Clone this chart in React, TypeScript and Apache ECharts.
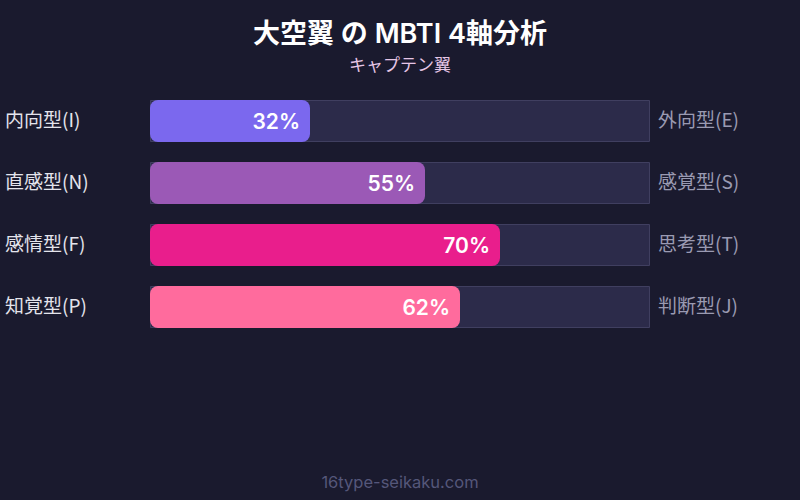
import React, { useEffect, useRef } from "react";
import * as echarts from "echarts";

const leftLabels = ["内向型(I)", "直感型(N)", "感情型(F)", "知覚型(P)"];
const rightLabels = ["外向型(E)", "感覚型(S)", "思考型(T)", "判断型(J)"];
const values = [32, 55, 70, 62];
const barColors = ["#7b68ee", "#9b59b6", "#e91e8c", "#ff6b9d"];
const fullValues = [100, 100, 100, 100];

const FONT = "Inter, 'Noto Sans CJK JP', sans-serif";
const LABEL_FONT = "'Noto Sans CJK JP', sans-serif";

export default function App() {
  const ref = useRef<HTMLDivElement>(null);
  useEffect(() => {
    if (!ref.current) return;
    const chart = echarts.init(ref.current, undefined, { renderer: "svg" });
    chart.setOption({
      animation: false,
      backgroundColor: "#1a1a2e",
      textStyle: { fontFamily: FONT },
      title: {
        text: "大空翼 の MBTI 4軸分析",
        subtext: "キャプテン翼",
        left: "center",
        top: 15,
        itemGap: 8,
        textStyle: { color: "#ffffff", fontSize: 27, fontWeight: 600, fontFamily: FONT },
        subtextStyle: { color: "#e6c6e6", fontSize: 17, fontFamily: LABEL_FONT },
      },
      grid: { left: 150, right: 150, top: 90, height: 248 },
      xAxis: { type: "value", min: 0, max: 100, show: false },
      yAxis: [
        {
          type: "category",
          data: leftLabels,
          inverse: true,
          position: "left",
          axisLine: { show: false },
          axisTick: { show: false },
          axisLabel: { align: "left", margin: 145, color: "#e4e4ec", fontSize: 19, fontFamily: LABEL_FONT, verticalAlign: "bottom", lineHeight: 6 },
        },
        {
          type: "category",
          data: rightLabels,
          inverse: true,
          position: "right",
          axisLine: { show: false },
          axisTick: { show: false },
          axisLabel: { align: "left", margin: 8, color: "#9a9ab2", fontSize: 19, fontFamily: LABEL_FONT, verticalAlign: "bottom", lineHeight: 6 },
        },
      ],
      series: [
        {
          type: "bar",
          yAxisIndex: 0,
          data: fullValues,
          barWidth: 42,
          silent: true,
          itemStyle: { color: "#2c2b4a", borderColor: "#403f60", borderWidth: 1 },
          z: 1,
        },
        {
          type: "bar",
          yAxisIndex: 0,
          barGap: "-100%",
          barWidth: 42,
          data: values.map((v, i) => ({ value: v, itemStyle: { color: barColors[i] } })),
          itemStyle: { borderRadius: 8 },
          label: {
            show: true,
            position: "insideRight",
            distance: 10,
            formatter: "{c}%",
            color: "#ffffff",
            fontSize: 21,
            fontWeight: 600,
            fontFamily: FONT,
          },
          z: 2,
        },
      ],
      graphic: [
        {
          type: "text",
          left: "center",
          top: 474,
          style: { text: "16type-seikaku.com", fill: "#55577a", fontSize: 16.5, fontFamily: FONT },
        },
      ],
    });
    return () => chart.dispose();
  }, []);
  return (
    <div
      ref={ref}
      style={{ position: "fixed", left: 0, top: 0, width: 800, height: 500 }}
    />
  );
}
